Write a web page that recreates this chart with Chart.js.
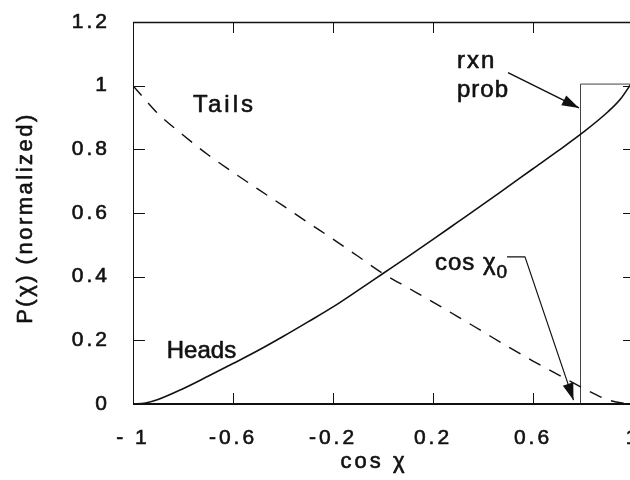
<!DOCTYPE html>
<html lang="en">
<head>
    <meta charset="UTF-8">
    <title>P(χ) vs cos χ</title>
    <script src="https://cdn.jsdelivr.net/npm/chart.js"></script>
    <style>
        html, body {
            margin: 0;
            padding: 0;
            background: #fff;
            overflow: hidden;
        }
        canvas {
            display: block;
        }
    </style>
</head>
<body>
    <!-- wider than the window: the cos chi = 1 end of the axis falls just off the right edge -->
    <canvas id="probChart" width="640" height="480"></canvas>

    <script>
        // cos chi sample points and the two normalized distributions
        const cosChi = [-1, -0.95, -0.9, -0.8, -0.7, -0.6, -0.5, -0.4, -0.3, -0.2, -0.1, 0,
                        0.1, 0.2, 0.3, 0.4, 0.5, 0.6, 0.7, 0.8, 0.9, 0.95, 1];
        const heads = [0, 0.003, 0.014, 0.048, 0.087, 0.127, 0.168, 0.212, 0.258, 0.305, 0.357, 0.41,
                       0.463, 0.517, 0.572, 0.627, 0.683, 0.739, 0.795, 0.853, 0.918, 0.958, 1.015];
        const tails = [1.0, 0.955, 0.912, 0.845, 0.783, 0.728, 0.675, 0.623, 0.57, 0.518, 0.464, 0.41,
                       0.365, 0.32, 0.274, 0.227, 0.18, 0.135, 0.092, 0.05, 0.013, 0.004, 0];

        // reaction probability step (threshold at cos chi0)
        const rxnX = [0.79, 0.79, 1];
        const rxnY = [0, 1.005, 1.005];

        // axis ticks
        const xTicks = [-1, -0.6, -0.2, 0.2, 0.6, 1];
        const xTickLabels = ["- 1", "-0.6", "-0.2", "0.2", "0.6", "1"];
        const yTicks = [0, 0.2, 0.4, 0.6, 0.8, 1, 1.2];
        const yTickLabels = ["0", "0.2", "0.4", "0.6", "0.8", "1", "1.2"];

        const FONT = "'Liberation Sans', Arial, sans-serif";
        const INK = "#111";

        const toPoints = (xs, ys) => xs.map((x, i) => ({ x: x, y: ys[i] }));

        // text labels, in data coordinates
        const notes = [
            { text: "Tails", x: -0.76, y: 0.918, spacing: 3 },
            { text: "Heads", x: -0.865, y: 0.145, spacing: 0 },
            { text: "rxn", x: 0.296, y: 1.057, spacing: 2 },
            { text: "prob", x: 0.296, y: 0.965, spacing: 1 }
        ];

        function heavyText(ctx, text, x, y) {
            ctx.fillText(text, x, y);
            ctx.strokeText(text, x, y);
        }

        function arrow(ctx, pts) {
            ctx.beginPath();
            ctx.moveTo(pts[0][0], pts[0][1]);
            for (let i = 1; i < pts.length; i++) ctx.lineTo(pts[i][0], pts[i][1]);
            ctx.stroke();
            const [x1, y1] = pts[pts.length - 2];
            const [x2, y2] = pts[pts.length - 1];
            const a = Math.atan2(y2 - y1, x2 - x1);
            const len = 17, half = 5.5;
            ctx.beginPath();
            ctx.moveTo(x2, y2);
            ctx.lineTo(x2 - len * Math.cos(a) + half * Math.sin(a), y2 - len * Math.sin(a) - half * Math.cos(a));
            ctx.lineTo(x2 - len * Math.cos(a) - half * Math.sin(a), y2 - len * Math.sin(a) + half * Math.cos(a));
            ctx.closePath();
            ctx.fill();
        }

        const framePlugin = {
            id: "framePlugin",
            beforeDraw(chart) {
                chart.ctx.letterSpacing = "3px";
            },
            afterDraw(chart) {
                const ctx = chart.ctx;
                const xs = chart.scales.x, ys = chart.scales.y;
                const { left, right, top, bottom } = chart.chartArea;
                const px = v => xs.getPixelForValue(v);
                const py = v => ys.getPixelForValue(v);

                ctx.save();
                ctx.strokeStyle = INK;
                ctx.fillStyle = INK;
                ctx.setLineDash([]);

                // frame
                ctx.lineWidth = 1;
                ctx.beginPath();
                ctx.moveTo(left + 0.5, top);
                ctx.lineTo(left + 0.5, bottom);
                ctx.moveTo(right - 0.5, top);
                ctx.lineTo(right - 0.5, bottom);
                ctx.stroke();
                ctx.lineWidth = 1.5;
                ctx.beginPath();
                ctx.moveTo(left, top + 0.5);
                ctx.lineTo(right, top + 0.5);
                ctx.stroke();
                ctx.lineWidth = 2;
                ctx.beginPath();
                ctx.moveTo(left, bottom);
                ctx.lineTo(right, bottom);
                ctx.stroke();

                // inward tick marks
                ctx.lineWidth = 1;
                ctx.beginPath();
                xTicks.slice(1, -1).forEach(v => {
                    const x = Math.round(px(v)) + 0.5;
                    ctx.moveTo(x, top);
                    ctx.lineTo(x, top + 11);
                    ctx.moveTo(x, bottom);
                    ctx.lineTo(x, bottom - 11);
                });
                yTicks.slice(1, -1).forEach(v => {
                    const y = Math.round(py(v)) + 0.5;
                    ctx.moveTo(left, y);
                    ctx.lineTo(left + 12, y);
                    ctx.moveTo(right, y);
                    ctx.lineTo(right - 10, y);
                });
                ctx.stroke();

                ctx.lineWidth = 0.6;
                ctx.lineJoin = "round";

                // axis titles
                ctx.font = "22px " + FONT;
                ctx.textAlign = "center";
                ctx.textBaseline = "middle";
                ctx.letterSpacing = "3px";
                heavyText(ctx, "cos χ", px(-0.036), 462);
                ctx.save();
                ctx.translate(26, 218);
                ctx.rotate(-Math.PI / 2);
                ctx.letterSpacing = "2.5px";
                heavyText(ctx, "P(χ) (normalized)", 0, 0);
                ctx.restore();

                // labels
                ctx.font = "24px " + FONT;
                ctx.textAlign = "left";
                ctx.textBaseline = "alphabetic";
                notes.forEach(n => {
                    ctx.letterSpacing = n.spacing + "px";
                    heavyText(ctx, n.text, px(n.x), py(n.y));
                });

                // cos chi0 with subscript
                ctx.letterSpacing = "1px";
                const cx = px(0.208), cy = py(0.421);
                heavyText(ctx, "cos χ", cx, cy);
                const w = ctx.measureText("cos χ").width;
                ctx.font = "19px " + FONT;
                heavyText(ctx, "0", cx + w, cy + 8);

                // arrows
                ctx.lineWidth = 1.5;
                arrow(ctx, [[px(0.5), py(1.041)], [px(0.784), py(0.93)]]);
                ctx.lineWidth = 1.2;
                arrow(ctx, [[px(0.496), py(0.462)], [px(0.568), py(0.462)], [px(0.762), py(0.012)]]);

                ctx.restore();
            }
        };

        const ctx = document.getElementById("probChart").getContext("2d");
        new Chart(ctx, {
            type: "line",
            data: {
                datasets: [
                    {
                        label: "Heads",
                        data: toPoints(cosChi, heads),
                        borderColor: INK,
                        borderWidth: 1.6,
                        pointRadius: 0,
                        cubicInterpolationMode: "monotone"
                    },
                    {
                        label: "Tails",
                        data: toPoints(cosChi, tails),
                        borderColor: INK,
                        borderWidth: 1.4,
                        borderDash: [13, 10],
                        pointRadius: 0,
                        cubicInterpolationMode: "monotone"
                    },
                    {
                        label: "rxn prob",
                        data: toPoints(rxnX, rxnY),
                        borderColor: "#444",
                        borderWidth: 1,
                        pointRadius: 0,
                        tension: 0
                    }
                ]
            },
            options: {
                responsive: false,
                animation: false,
                events: [],
                layout: {
                    padding: { top: 22, right: 7, left: 0, bottom: 0 }
                },
                plugins: {
                    legend: { display: false },
                    tooltip: { enabled: false }
                },
                scales: {
                    x: {
                        type: "linear",
                        min: -1,
                        max: 1,
                        grid: { display: false },
                        border: { display: false },
                        afterBuildTicks: s => { s.ticks = xTicks.map(v => ({ value: v })); },
                        afterFit: s => { s.height = 76; s.paddingLeft = 0; s.paddingRight = 0; },
                        ticks: {
                            color: INK,
                            padding: 14,
                            maxRotation: 0,
                            textStrokeColor: INK,
                            textStrokeWidth: 0.6,
                            font: { family: FONT, size: 21 },
                            callback: (v, i) => xTickLabels[i]
                        }
                    },
                    y: {
                        min: 0,
                        max: 1.2,
                        grid: { display: false },
                        border: { display: false },
                        afterBuildTicks: s => { s.ticks = yTicks.map(v => ({ value: v })); },
                        afterFit: s => { s.width = 133; s.paddingTop = 0; s.paddingBottom = 0; },
                        ticks: {
                            color: INK,
                            padding: 15,
                            textStrokeColor: INK,
                            textStrokeWidth: 0.6,
                            font: { family: FONT, size: 21 },
                            callback: (v, i) => yTickLabels[i]
                        }
                    }
                }
            },
            plugins: [framePlugin]
        });
    </script>
</body>
</html>
